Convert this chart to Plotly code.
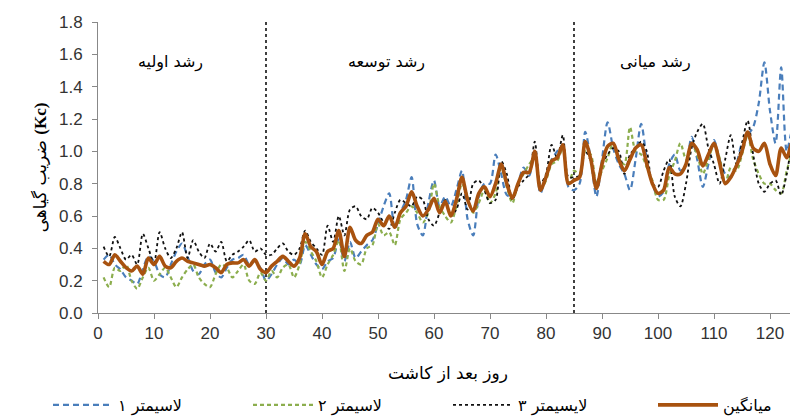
import plotly.graph_objects as go

days = list(range(1, 126))

lys1 = [0.33, 0.36, 0.30, 0.27, 0.22, 0.20, 0.18, 0.27, 0.35, 0.32,
        0.24, 0.22, 0.30, 0.38, 0.43, 0.35, 0.26, 0.24, 0.30, 0.33,
        0.25, 0.22, 0.28, 0.33, 0.34, 0.36, 0.30, 0.32, 0.28, 0.20,
        0.24, 0.30, 0.34, 0.30, 0.33, 0.30, 0.42, 0.36, 0.30, 0.27,
        0.32, 0.34, 0.46, 0.32, 0.44, 0.34, 0.38, 0.42, 0.45, 0.55,
        0.66, 0.74, 0.52, 0.62, 0.70, 0.84, 0.55, 0.48, 0.68, 0.82,
        0.66, 0.72, 0.66, 0.76, 0.88, 0.58, 0.48, 0.72, 0.80, 0.80,
        0.98, 0.86, 0.73, 0.72, 0.80, 0.90, 0.85, 1.00, 0.74, 0.85,
        0.95, 1.00, 1.04, 0.78, 0.76, 0.80, 1.12, 0.95, 0.72, 0.95,
        1.18, 1.02, 0.92, 0.86, 0.76, 0.95, 1.17, 0.95, 0.80, 0.72,
        0.75, 0.92, 0.98, 0.88, 0.92, 1.09, 0.95, 0.78, 0.92, 1.07,
        0.95, 0.86, 0.84, 0.92, 1.05, 1.10, 1.15, 1.30, 1.55, 1.25,
        1.05, 1.52, 1.00, 1.13, 1.02]

lys2 = [0.22, 0.16, 0.28, 0.26, 0.30, 0.20, 0.15, 0.22, 0.28, 0.20,
        0.24, 0.28, 0.22, 0.16, 0.22, 0.27, 0.30, 0.22, 0.18, 0.16,
        0.24, 0.30, 0.28, 0.22, 0.26, 0.30, 0.20, 0.18, 0.25, 0.20,
        0.26, 0.22, 0.28, 0.30, 0.22, 0.30, 0.44, 0.38, 0.32, 0.22,
        0.30, 0.36, 0.45, 0.26, 0.40, 0.32, 0.30, 0.40, 0.42, 0.55,
        0.48, 0.50, 0.42, 0.58, 0.62, 0.66, 0.62, 0.56, 0.62, 0.80,
        0.66, 0.60, 0.56, 0.66, 0.80, 0.72, 0.62, 0.68, 0.76, 0.68,
        0.74, 0.90, 0.78, 0.68, 0.80, 0.86, 0.92, 0.96, 0.76, 0.82,
        0.92, 0.94, 1.02, 0.80, 0.88, 0.86, 1.00, 0.98, 0.80, 0.88,
        0.96, 1.05, 0.96, 0.92, 1.15, 1.00, 0.98, 0.90, 0.82, 0.70,
        0.70, 0.85, 0.94, 1.05, 0.95, 1.04, 0.98, 0.86, 0.95, 1.04,
        0.96, 0.80, 0.90, 0.88, 0.98, 1.10, 0.95, 0.86, 0.80, 0.80,
        0.76, 0.74, 0.88, 0.98, 0.96]

lys3 = [0.41, 0.35, 0.47, 0.40, 0.33, 0.36, 0.30, 0.49, 0.40, 0.31,
        0.50, 0.40, 0.34, 0.40, 0.50, 0.34, 0.45, 0.38, 0.34, 0.43,
        0.38, 0.44, 0.32, 0.36, 0.38, 0.41, 0.45, 0.38, 0.40, 0.36,
        0.36, 0.40, 0.43, 0.38, 0.36, 0.40, 0.51, 0.44, 0.40, 0.36,
        0.54, 0.44, 0.60, 0.48, 0.64, 0.66, 0.60, 0.58, 0.65, 0.62,
        0.56, 0.52, 0.62, 0.70, 0.68, 0.66, 0.72, 0.70, 0.58, 0.54,
        0.62, 0.70, 0.60, 0.64, 0.74, 0.64, 0.80, 0.82, 0.76, 0.68,
        0.70, 0.94, 0.86, 0.70, 0.78, 0.82, 0.86, 1.06, 0.80, 0.86,
        1.04, 0.96, 1.10, 0.84, 0.84, 0.85, 1.00, 0.94, 0.80, 0.92,
        0.98, 1.02, 1.00, 0.86, 0.98, 1.02, 1.06, 1.00, 0.80, 0.78,
        0.88, 0.95, 0.72, 0.66, 0.80, 1.02, 1.12, 1.17, 1.02, 0.92,
        0.80, 0.95, 1.10, 0.92, 1.05, 1.19, 0.98, 0.80, 0.75, 0.80,
        0.82, 0.73, 0.86, 1.02, 1.00]

mean = [0.32, 0.30, 0.36, 0.32, 0.28, 0.26, 0.29, 0.24, 0.34, 0.30,
        0.35, 0.29, 0.28, 0.32, 0.34, 0.32, 0.31, 0.30, 0.29, 0.30,
        0.28, 0.25, 0.30, 0.31, 0.31, 0.33, 0.29, 0.33, 0.27, 0.25,
        0.29, 0.32, 0.35, 0.32, 0.29, 0.34, 0.49, 0.41, 0.38, 0.30,
        0.38, 0.40, 0.51, 0.35, 0.53, 0.45, 0.43, 0.48, 0.50, 0.58,
        0.54, 0.60, 0.53, 0.62, 0.66, 0.75, 0.66, 0.60, 0.64, 0.71,
        0.62, 0.69, 0.60, 0.70, 0.84, 0.70, 0.63, 0.74, 0.78, 0.72,
        0.80, 0.92, 0.80, 0.71, 0.80, 0.87, 0.87, 1.00, 0.76, 0.84,
        0.94, 0.96, 1.04, 0.80, 0.82, 0.84, 1.06, 0.95, 0.77, 0.92,
        1.03, 1.05, 0.95, 0.88, 0.95, 1.02, 1.04, 0.92, 0.80, 0.74,
        0.76, 0.90, 0.86, 0.86, 0.92, 1.05, 1.01, 0.91, 0.98, 1.05,
        0.93, 0.80, 0.84, 0.91, 1.00, 1.12, 1.02, 1.00, 1.05, 0.92,
        0.85, 1.02, 0.96, 1.06, 1.00]

series_names = ["لاسیمتر ۱", "لاسیمتر ۲", "لایسیمتر ۳", "میانگین"]
stage_labels = ["رشد اولیه", "رشد توسعه", "رشد میانی"]
stage_x = [13, 51.5, 99.5]
stage_bounds = [30, 85]
x_ticks = list(range(0, 121, 10))
y_ticks = [0.0, 0.2, 0.4, 0.6, 0.8, 1.0, 1.2, 1.4, 1.6, 1.8]

FA = "DejaVu Sans"
LAT = "Liberation Sans, Arial, sans-serif"

styles = [
    dict(color="#4a7ebb", width=2.2, dash="6px,4px"),
    dict(color="#8cae4e", width=2.2, dash="4px,3px"),
    dict(color="#111111", width=1.8, dash="dot"),
    dict(color="#a8520f", width=3.6),
]
legend_ids = ["legend", "legend2", "legend3", "legend4"]
legend_x = [40, 240, 440, 645]  # left edges of legend boxes (figure px)

# page body adds an 8px offset, so the figure is sized to the remaining area
W, H = 790, 408

fig = go.Figure()
for vals, nm, st, lg in zip([lys1, lys2, lys3, mean], series_names, styles, legend_ids):
    fig.add_trace(go.Scatter(x=days, y=vals, name=nm, mode="lines", legend=lg,
                             line=dict(shape="spline", smoothing=0.8, **st)))

for b in stage_bounds:
    fig.add_shape(type="line", x0=b, x1=b, y0=0, y1=1.8, xref="x", yref="y",
                  line=dict(color="#111111", width=1.6, dash="dot"), layer="below")

for lbl, sx in zip(stage_labels, stage_x):
    fig.add_annotation(x=sx, y=1.55, xref="x", yref="y", text=lbl, showarrow=False,
                       font=dict(family=FA, size=16, color="#000000"))

leg_common = dict(orientation="h", xref="container", yref="container",
                  yanchor="middle", y=(H - 397) / H, xanchor="left",
                  font=dict(family=FA, size=16, color="#000000"),
                  itemwidth=60, bgcolor="rgba(0,0,0,0)")
layout_legends = {}
for lg, lx in zip(legend_ids, legend_x):
    layout_legends[lg] = dict(x=lx / W, **leg_common)

fig.update_layout(
    width=W, height=H,
    margin=dict(l=90, r=0, t=14, b=103, autoexpand=False),
    plot_bgcolor="white", paper_bgcolor="white",
    showlegend=True,
    xaxis=dict(range=[0, 125], tickvals=x_ticks, ticks="outside", ticklen=5,
               tickcolor="#888888", showline=True, linecolor="#888888", linewidth=1,
               showgrid=False, zeroline=False,
               tickfont=dict(family=LAT, size=17, color="#333333"),
               title=dict(text="روز بعد از کاشت", font=dict(family=FA, size=17, color="#000000"), standoff=24)),
    yaxis=dict(range=[0, 1.8], tickvals=y_ticks, tickformat=".1f", ticks="outside", ticklen=5,
               tickcolor="#888888", showline=True, linecolor="#888888", linewidth=1,
               showgrid=False, zeroline=False, ticklabelstandoff=6,
               tickfont=dict(family=LAT, size=17, color="#333333"),
               title=dict(text="ضریب گیاهی <span style=\"font-family:'Liberation Serif'\"><b>(Kc)</b></span>",
                          font=dict(family=FA, size=17, color="#000000"), standoff=8)),
    **layout_legends,
)

fig.write_html("out.html")
